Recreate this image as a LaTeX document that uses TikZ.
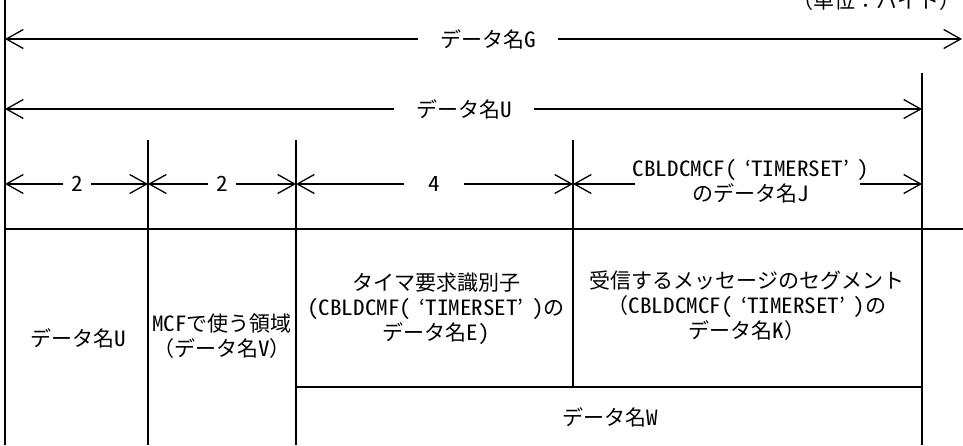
\documentclass[tikz,border=0pt]{standalone}
\usepackage{fontspec}
\setmainfont{Noto Sans CJK JP}
\newfontfamily\hwfont[CharacterWidth=Half,FakeStretch=1.1]{Noto Sans CJK JP}
\newcommand\hw[1]{{\hwfont #1}}
\newcommand\tmrset{\hw{(}\hspace{0.4em}‘\hw{TIMERSET}’\hspace{0.4em}\hw{)}}
\usetikzlibrary{arrows.meta}
\tikzset{
  dim/.style={-{Straight Barb[length=17pt,width=19pt,line width=1.3pt]},line width=1.3pt},
  rule/.style={line width=1.6pt},
  lbl/.style={inner ysep=2pt,font=\fontsize{21}{25}\selectfont,align=center},
  cell/.style={inner sep=0pt,font=\fontsize{21}{25}\selectfont,align=center}
}
\begin{document}
\begin{tikzpicture}[x=1pt,y=-1pt]
\useasboundingbox (0,0) rectangle (963,445);
% unit note (partly above the picture)
\node[cell] (unit) at (876,1) {（単位：バイト）};
% coordinates
\coordinate (gL) at (5,39);   \coordinate (gR) at (962,39);
\coordinate (uL) at (5,109);  \coordinate (uR) at (922,109);
\coordinate (r0) at (5,184);  \coordinate (r1) at (148,184);
\coordinate (r2) at (296,184);\coordinate (r3) at (573,184);
\coordinate (r4) at (922,184);
\coordinate (jl) at (635,184);\coordinate (jr) at (860,184);
% dimension labels
\node[lbl,inner xsep=22pt] (g) at (488,39) {データ名\hw{G}};
\node[lbl,inner xsep=22pt] (u) at (464,109) {データ名\hw{U}};
\node[lbl,inner xsep=8pt] (d1) at (77,184) {\hw{2}};
\node[lbl,inner xsep=8pt] (d2) at (222,184) {\hw{2}};
\node[lbl,inner xsep=24pt] (d3) at (434,184) {\hw{4}};
\node[lbl,inner sep=0pt] (j) at (751,181) {\hw{CBLDCMCF}\tmrset\\のデータ名\hw{J}};
% dimension arrows
\draw[dim] (g.west) -- (gL);  \draw[dim] (g.east) -- (gR);
\draw[dim] (u.west) -- (uL);  \draw[dim] (u.east) -- (uR);
\draw[dim] (d1.west) -- (r0); \draw[dim] (d1.east) -- (r1);
\draw[dim] (d2.west) -- (r1); \draw[dim] (d2.east) -- (r2);
\draw[dim] (d3.west) -- (r2); \draw[dim] (d3.east) -- (r3);
\draw[dim] (jl) -- (r3);      \draw[dim] (jr) -- (r4);
% table rules
\draw[rule] (5,0) -- (5,445);
\draw[rule] (148,140) -- (148,445);
\draw[rule] (296,140) -- (296,445);
\draw[rule] (573,140) -- (573,387);
\draw[rule] (922,73) -- (922,445);
\draw[rule] (5,229) -- (963,229);
\draw[rule] (296,387) -- (922,387);
% cell texts
\node[cell] (cu) at (78,338) {データ名\hw{U}};
\node[cell] (cv) at (222,336) {\hw{MCF}で使う領域\\（データ名\hw{V}）};
\node[cell] (ce) at (436,309) {タイマ要求識別子\\\hw{(CBLDCMF}\tmrset の\\データ名\hw{E)}};
\node[cell] (ck) at (747,306) {受信するメッセージのセグメント\\（\hw{CBLDCMCF}\tmrset の\\データ名\hw{K}）};
\node[cell] (cw) at (610,417) {データ名\hw{W}};
\end{tikzpicture}
\end{document}
